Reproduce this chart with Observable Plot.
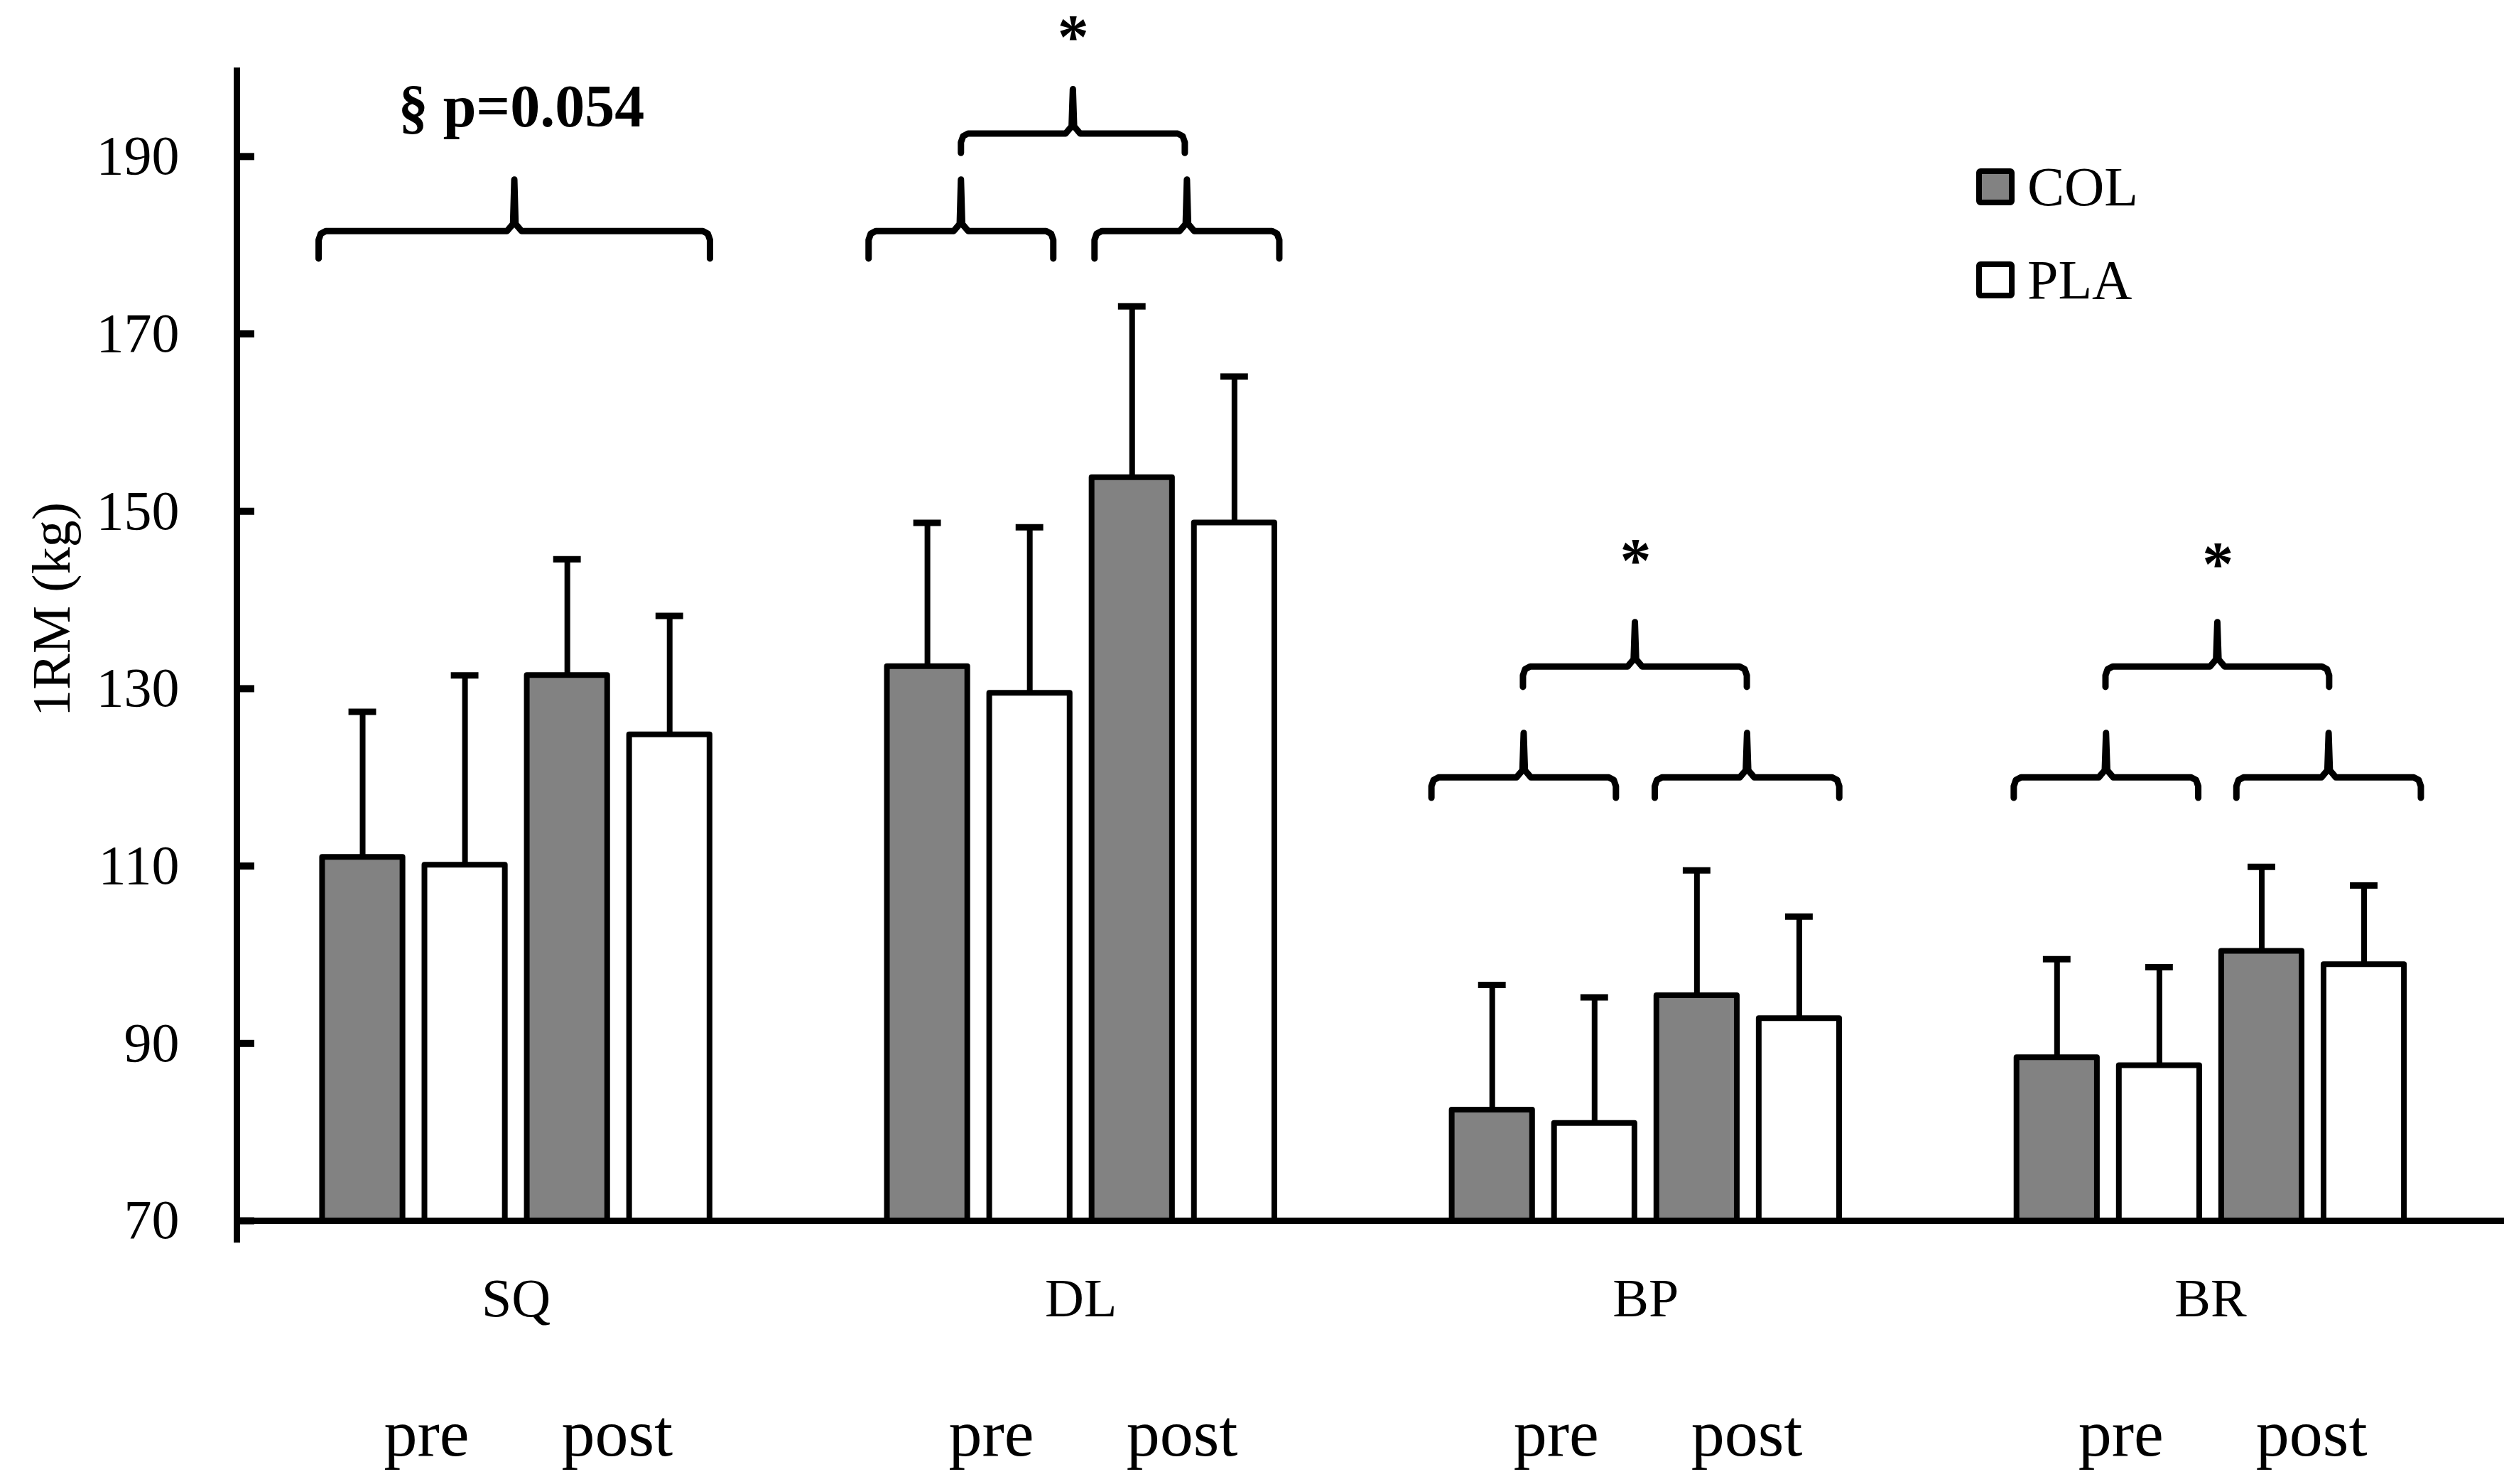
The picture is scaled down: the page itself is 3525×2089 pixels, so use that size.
<!DOCTYPE html>
<html><head><meta charset="utf-8">
<script src="https://cdn.jsdelivr.net/npm/d3@7"></script>
<script src="https://cdn.jsdelivr.net/npm/@observablehq/plot@0.6"></script>
<style>
html,body{margin:0;padding:0;background:#fff;}
#wrap{position:relative;width:3525px;height:2089px;font-family:'Liberation Serif',serif;overflow:hidden;}
#wrap svg{position:absolute;left:0;top:0;}
.lg-box{position:absolute;box-sizing:border-box;width:54px;height:52px;border:8px solid #000;border-radius:6px;}
.lg-txt{position:absolute;font-size:78px;line-height:1;color:#000;white-space:nowrap;}
</style></head><body><div id="wrap"></div>
<script>
// ---- data ----
const exercises = ["SQ", "DL", "BP", "BR"];
const conditions = ["COL pre", "PLA pre", "COL post", "PLA post"];
const treatments = ["COL", "PLA", "COL", "PLA"];
const phases = ["pre", "post"];
const groups = ["COL", "PLA"];
const groupFills = ["#828282", "#ffffff"];

const colPre  = [111.0, 132.5, 82.5, 88.4];
const plaPre  = [110.1, 129.5, 81.0, 87.5];
const colPost = [131.5, 153.8, 95.4, 100.4];
const plaPost = [124.8, 148.7, 92.8, 98.9];

const colPreSD  = [16.4, 16.2, 14.1, 11.1];
const plaPreSD  = [21.4, 18.7, 14.2, 11.1];
const colPostSD = [13.1, 19.3, 14.1, 9.5];
const plaPostSD = [13.4, 16.5, 11.5, 8.9];

const yTicks = [70, 90, 110, 130, 150, 170, 190];

// significance brackets (x in bar-slot units, y in kg)
const bracketX1  = [0.793, 6.129, 8.321, 7.025, 11.59, 13.757, 12.478, 17.24, 19.40, 18.13];
const bracketX2  = [4.59, 7.921, 10.114, 9.197, 13.38, 15.547, 14.65, 19.03, 21.19, 20.30];
const bracketY   = [181.6, 181.6, 181.6, 192.6, 120.0, 120.0, 132.5, 120.0, 120.0, 132.5];
const bracketEnd = [178.5, 178.5, 178.5, 190.4, 117.7, 117.7, 130.2, 117.7, 117.7, 130.2];
const bracketTip = [187.4, 187.4, 187.4, 197.6, 125.0, 125.0, 137.5, 125.0, 125.0, 137.5];

const annoText = ["§ p=0.054", "*", "*", "*"];
const annoX = [2.76, 8.114, 13.57, 19.22];
const annoY = [193.4, 201.2, 142.1, 141.7];

// ---- layout (bar-slot units) ----
const firstBar = 1.22, groupStep = 5.48, barStep = 0.993, halfBar = 0.39, halfCap = 0.134;

const means = [colPre, plaPre, colPost, plaPost];
const sds = [colPreSD, plaPreSD, colPostSD, plaPostSD];

const bars = exercises.flatMap((ex, g) => conditions.map((cond, j) => ({
  exercise: ex, condition: cond, treatment: treatments[j],
  c: firstBar + g * groupStep + j * barStep,
  value: means[j][g], upper: means[j][g] + sds[j][g]
})));

const groupCenter = g => firstBar + g * groupStep + 1.5 * barStep;
const phaseLabels = exercises.flatMap((ex, g) => phases.map((p, k) => ({
  text: p, x: firstBar + g * groupStep + (k === 0 ? 0.62 : 2.47)
})));

const bracketPts = bracketX1.flatMap((x1, i) => {
  const x2 = bracketX2[i], y = bracketY[i], ye = bracketEnd[i], yt = bracketTip[i];
  const xm = (x1 + x2) / 2, rx = 0.07, ry = 1.0;
  return [
    [x1, ye], [x1, y - ry], [x1 + rx * 0.3, y - ry * 0.3], [x1 + rx, y],
    [xm - 0.07, y], [xm - 0.012, y + 0.8], [xm, yt], [xm + 0.012, y + 0.8], [xm + 0.07, y],
    [x2 - rx, y], [x2 - rx * 0.3, y - ry * 0.3], [x2, y - ry], [x2, ye]
  ].map(([x, yy]) => ({id: i, x, y: yy}));
});

const annos = annoText.map((t, i) => ({text: t, x: annoX[i], y: annoY[i]}));

const chart = Plot.plot({
  width: 3525,
  height: 2089,
  marginLeft: 333,
  marginRight: 0,
  marginTop: 95,
  marginBottom: 371,
  x: {domain: [0, 22], axis: null},
  y: {domain: [70, 200]},
  color: {domain: groups, range: groupFills},
  style: {fontFamily: "'Liberation Serif', serif", background: "white", color: "black", overflow: "visible"},
  marks: [
    Plot.rect(bars, {
      x1: d => d.c - halfBar, x2: d => d.c + halfBar, y1: 70, y2: "value",
      fill: "treatment", stroke: "black", strokeWidth: 8, strokeLinejoin: "round"
    }),
    Plot.ruleX(bars, {x: "c", y1: "value", y2: "upper", stroke: "black", strokeWidth: 8}),
    Plot.ruleY(bars, {y: "upper", x1: d => d.c - halfCap, x2: d => d.c + halfCap, stroke: "black", strokeWidth: 9}),
    Plot.ruleY([70], {stroke: "black", strokeWidth: 9}),
    Plot.ruleX([0], {y1: 67.5, y2: 200, stroke: "black", strokeWidth: 9}),
    Plot.ruleY(yTicks, {x1: 0, x2: 0.172, stroke: "black", strokeWidth: 10}),
    Plot.axisY({ticks: yTicks, tickSize: 0, tickPadding: 81, fontSize: 78, label: null, tickFormat: d => String(d)}),
    Plot.line(bracketPts, {x: "x", y: "y", z: "id", stroke: "black", strokeWidth: 9, strokeLinejoin: "round"}),
    Plot.text(annos.slice(0, 1), {x: "x", y: "y", text: "text", fontSize: 84, fontWeight: "bold", lineAnchor: "bottom"}),
    Plot.text(annos.slice(1), {x: "x", y: "y", text: "text", fontSize: 88, fontWeight: "bold", lineAnchor: "bottom"}),
    Plot.text(exercises, {x: (d, i) => groupCenter(i), text: d => d, frameAnchor: "bottom", dy: 134, lineAnchor: "bottom", fontSize: 76}),
    Plot.text(phaseLabels, {x: "x", text: "text", frameAnchor: "bottom", dy: 330, lineAnchor: "bottom", fontSize: 94}),
    Plot.text(["1RM (kg)"], {frameAnchor: "left", textAnchor: "middle", rotate: -90, dx: -260, dy: -49, fontSize: 76})
  ]
});

const wrap = document.getElementById("wrap");
wrap.appendChild(chart);

// legend
const legendTop = [237, 368];
groups.forEach((gname, i) => {
  const box = document.createElement("div");
  box.className = "lg-box";
  box.style.left = "2782px";
  box.style.top = legendTop[i] + "px";
  box.style.background = groupFills[i];
  wrap.appendChild(box);
  const t = document.createElement("div");
  t.className = "lg-txt";
  t.style.left = "2854px";
  t.style.top = (legendTop[i] + 52 - 65.3) + "px";
  t.textContent = gname;
  wrap.appendChild(t);
});
</script>
</body></html>
